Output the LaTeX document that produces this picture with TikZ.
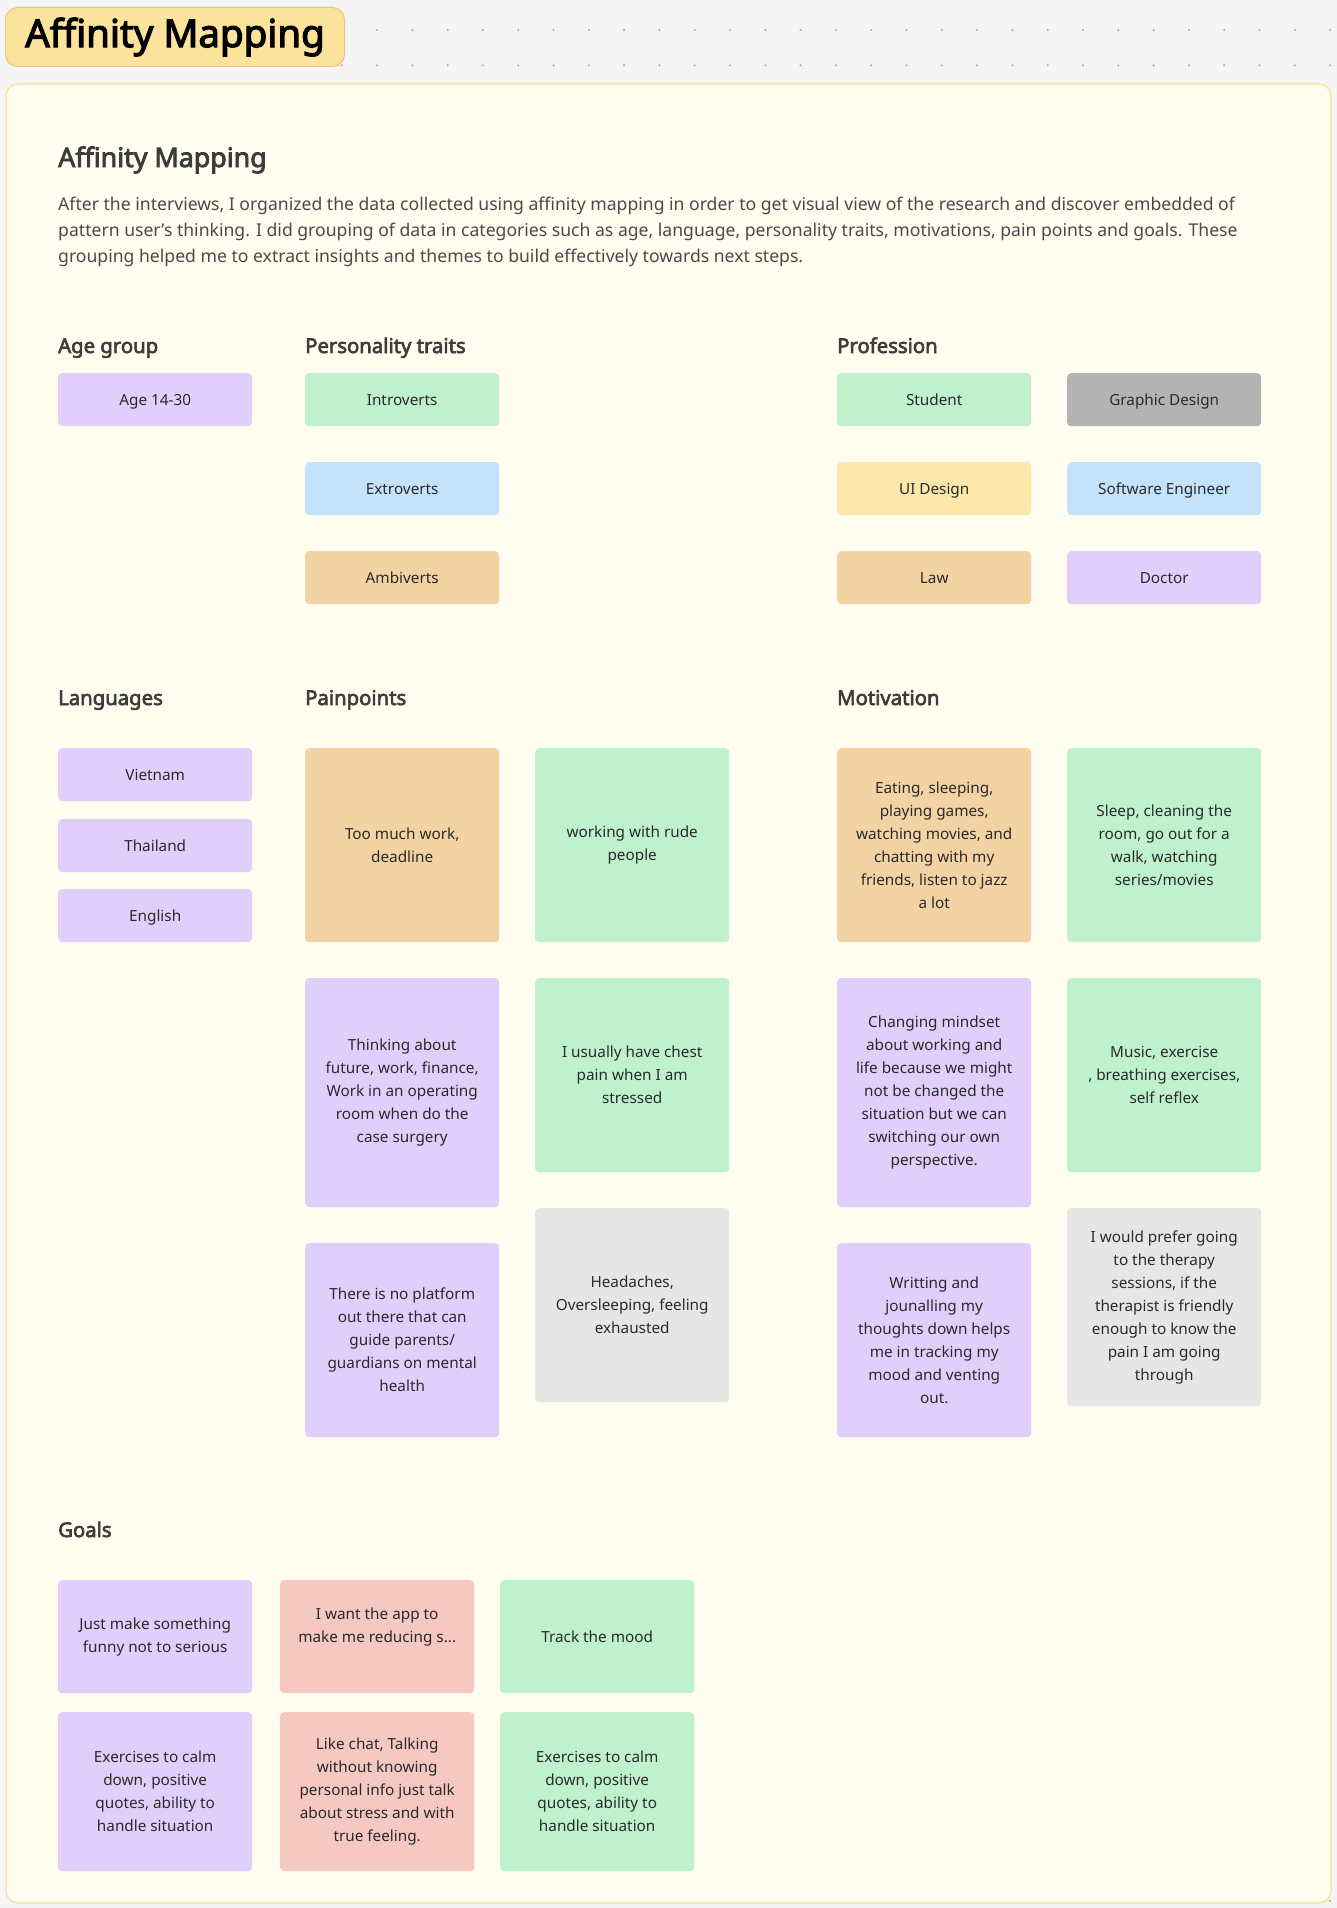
\documentclass[tikz,border=0pt]{standalone}
\usepackage{fontspec}
\setmainfont{Noto Sans}[AutoFakeBold=3]
\usetikzlibrary{positioning}

\definecolor{canvas}{HTML}{F5F5F6}
\definecolor{griddot}{HTML}{ABABAB}
\definecolor{paper}{HTML}{FFFCF0}
\definecolor{paperline}{HTML}{F6E3A8}
\definecolor{badgefill}{HTML}{FBE39C}
\definecolor{badgeline}{HTML}{E5C978}
\definecolor{ink}{HTML}{2A2A2A}
\definecolor{headink}{HTML}{3C3C3C}
\definecolor{bodyink}{HTML}{4A4A4A}
\definecolor{lav}{HTML}{E0CFFA}
\definecolor{mint}{HTML}{BFF2CC}
\definecolor{sky}{HTML}{C5E2FB}
\definecolor{peach}{HTML}{F3D3A3}
\definecolor{butter}{HTML}{FBE8AA}
\definecolor{ash}{HTML}{B3B3B3}
\definecolor{fog}{HTML}{E6E6E6}
\definecolor{rose}{HTML}{F5C8C1}

\begin{document}
\begin{tikzpicture}[x=1pt, y=-1pt,
    note/.style={anchor=north west, rounded corners=4pt, minimum width=194pt,
        inner sep=0pt, align=center, text=ink, font=\fontsize{15.3}{23}\selectfont},
    tag/.style={note, minimum height=53pt, text height=13pt, text depth=0.6pt},
    card/.style={note, minimum height=194pt},
    heading/.style={anchor=base west, inner sep=0pt, text=headink,
        font=\bfseries\fontsize{20.3}{24}\selectfont}]
    \useasboundingbox (0,0) rectangle (1337,1908);
    \fill[canvas] (0,0) rectangle (1337,1908);

    % Grille de points
    \foreach \gy in {30,65.3,...,1908}
        \foreach \gx in {24,59.3,...,1337}
            \fill[griddot] (\gx,\gy) circle (1.2pt);

    % Cadre et titre
    \draw[paperline, fill=paper, line width=1.5pt, rounded corners=12pt] (6,84) rectangle (1331,1903);
    \node[anchor=north west, draw=badgeline, fill=badgefill, line width=1pt, rounded corners=12pt,
        minimum width=339pt, minimum height=59pt, inner sep=0pt,
        font=\bfseries\fontsize{38.5}{40}\selectfont] (badge) at (5,7) {Affinity Mapping};

    \node[anchor=base west, inner sep=0pt, text=headink, font=\bfseries\fontsize{26.8}{30}\selectfont]
        (headline) at (58,167) {Affinity Mapping};
    \node[anchor=base west, inner sep=0pt, align=left, text=bodyink, font=\fontsize{17.6}{26}\selectfont]
        (intro) at (58,262) {After the interviews, I organized the data collected using affinity mapping in order to get visual view of the research and discover embedded of\\
        pattern user’s thinking. I did grouping of data in categories such as age, language, personality traits, motivations, pain points and goals. These\\
        grouping helped me to extract insights and themes to build effectively towards next steps.};

    % Age, personnalite, profession
    \node[heading] (hage) at (58,353) {Age group};
    \node[heading] (htraits) at (305,353) {Personality traits};
    \node[heading] (hjob) at (837,353) {Profession};

    \node[tag, fill=lav] (age) at (58,373) {Age 14-30};
    \node[tag, fill=mint] (introvert) at (305,373) {Introverts};
    \node[tag, fill=sky] (extrovert) at (305,462) {Extroverts};
    \node[tag, fill=peach] (ambivert) at (305,551) {Ambiverts};
    \node[tag, fill=mint] (student) at (837,373) {Student};
    \node[tag, fill=ash] (graphic) at (1067,373) {Graphic Design};
    \node[tag, fill=butter] (uidesign) at (837,462) {UI Design};
    \node[tag, fill=sky] (software) at (1067,462) {Software Engineer};
    \node[tag, fill=peach] (law) at (837,551) {Law};
    \node[tag, fill=lav] (doctor) at (1067,551) {Doctor};

    % Langues, douleurs, motivation
    \node[heading] (hlang) at (58,705) {Languages};
    \node[heading] (hpain) at (305,705) {Painpoints};
    \node[heading] (hmotiv) at (837,705) {Motivation};

    \node[tag, fill=lav] (vietnam) at (58,748) {Vietnam};
    \node[tag, fill=lav] (thailand) at (58,819) {Thailand};
    \node[tag, fill=lav] (english) at (58,889) {English};

    \node[card, fill=peach] (pain1) at (305,748) {Too much work,\\deadline};
    \node[card, fill=mint] (pain2) at (535,748) {working with rude\\people};
    \node[card, fill=lav, minimum height=229pt] (pain3) at (305,978) {Thinking about\\future, work, finance,\\Work in an operating\\room when do the\\case surgery};
    \node[card, fill=mint] (pain4) at (535,978) {I usually have chest\\pain when I am\\stressed};
    \node[card, fill=lav] (pain5) at (305,1243) {There is no platform\\out there that can\\guide parents/\\guardians on mental\\health};
    \node[card, fill=fog] (pain6) at (535,1208) {Headaches,\\Oversleeping, feeling\\exhausted};

    \node[card, fill=peach] (motiv1) at (837,748) {Eating, sleeping,\\playing games,\\watching movies, and\\chatting with my\\friends, listen to jazz\\a lot};
    \node[card, fill=mint] (motiv2) at (1067,748) {Sleep, cleaning the\\room, go out for a\\walk, watching\\series/movies};
    \node[card, fill=lav, minimum height=229pt] (motiv3) at (837,978) {Changing mindset\\about working and\\life because we might\\not be changed the\\situation but we can\\switching our own\\perspective.};
    \node[card, fill=mint] (motiv4) at (1067,978) {Music, exercise\\, breathing exercises,\\self reflex};
    \node[card, fill=lav] (motiv5) at (837,1243) {Writting and\\jounalling my\\thoughts down helps\\me in tracking my\\mood and venting\\out.};
    \node[card, fill=fog, minimum height=198pt] (motiv6) at (1067,1208) {I would prefer going\\to the therapy\\sessions, if the\\therapist is friendly\\enough to know the\\pain I am going\\through};

    % Objectifs
    \node[heading] (hgoals) at (58,1537) {Goals};

    \node[note, fill=lav, minimum height=113pt] (goal1) at (58,1580) {Just make something\\funny not to serious};
    \node[note, fill=rose, minimum height=113pt, text depth=24pt] (goal2) at (280,1580) {I want the app to\\make me reducing s...};
    \node[note, fill=mint, minimum height=113pt] (goal3) at (500,1580) {Track the mood};
    \node[note, fill=lav, minimum height=159pt] (goal4) at (58,1712) {Exercises to calm\\down, positive\\quotes, ability to\\handle situation};
    \node[note, fill=rose, minimum height=159pt] (goal5) at (280,1712) {Like chat, Talking\\without knowing\\personal info just talk\\about stress and with\\true feeling.};
    \node[note, fill=mint, minimum height=159pt] (goal6) at (500,1712) {Exercises to calm\\down, positive\\quotes, ability to\\handle situation};
\end{tikzpicture}
\end{document}
